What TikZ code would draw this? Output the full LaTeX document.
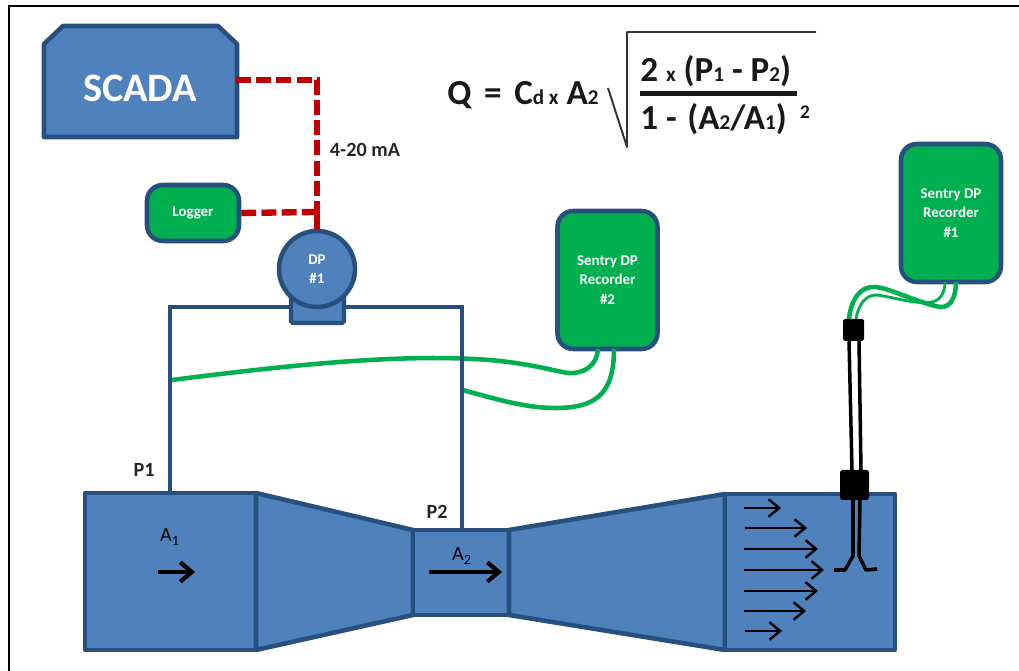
\documentclass[tikz,border=0pt]{standalone}
\usepackage{fontspec}
\setmainfont{Carlito}
\usetikzlibrary{arrows.meta}

\definecolor{pipeblue}{HTML}{4F81BD}
\definecolor{edgeblue}{HTML}{28507F}
\definecolor{boxgreen}{HTML}{00B050}
\definecolor{sigred}{HTML}{C00000}

\tikzset{
  unit/.style={draw=edgeblue,line width=2.6pt,fill=boxgreen,rounded corners=9pt,text=white,font=\bfseries\fontsize{8.5}{11}\selectfont,align=center,inner sep=0pt},
  section/.style={draw=edgeblue,line width=2.6pt,fill=pipeblue,line join=round},
  impulse/.style={draw=edgeblue,line width=2.8pt},
  signal/.style={draw=sigred,line width=3.1pt,dash pattern=on 8.5pt off 3pt},
  tube/.style={draw=boxgreen,line width=2.6pt},
  probe/.style={draw=black,line width=2pt},
  clamp/.style={fill=black,rounded corners=1pt,inner sep=0pt},
  flow/.style={draw=black,line width=1.4pt,-{Straight Barb[length=6pt,width=10pt,line width=1.4pt]}},
  bigflow/.style={draw=black,line width=2.4pt,-{Straight Barb[length=6.5pt,width=11pt,line width=2.4pt]}},
  tag/.style={font=\bfseries\fontsize{11.5}{13}\selectfont,text=black!85,inner sep=0pt},
  eqn/.style={font=\bfseries\fontsize{20}{22}\selectfont,text=black!90,inner sep=0pt}
}
\newcommand{\eqsub}[1]{{\fontsize{12}{12}\selectfont #1}}

\begin{document}
\begin{tikzpicture}[x=0.02cm,y=-0.02cm]

  \useasboundingbox (0,0) rectangle (1019,671);

  \draw[line width=1.5pt] (9,671) -- (9,6) -- (1019,6);

  % venturi
  \draw[section] (85,493) rectangle (256,650);
  \draw[section] (256,493) -- (413,530) -- (413,615) -- (256,650) -- cycle;
  \draw[section] (413,530) rectangle (509,615);
  \draw[section] (509,530) -- (725,494) -- (725,650) -- (509,615) -- cycle;
  \draw[section] (725,494) rectangle (895,650);

  % boxes
  \draw[section] (44,44) -- (63,26) -- (218,26) -- (237,44) -- (237,137) -- (44,137) -- cycle;
  \node[font=\bfseries\fontsize{23}{25}\selectfont,text=white,inner sep=0pt] (scada) at (140,88) {SCADA};
  \node[unit,minimum width=1.84cm,minimum height=1.12cm] (logger) at (193,213) {Logger};
  \node[unit,minimum width=2cm,minimum height=2.76cm] (rec2) at (607.5,280) {Sentry DP\\Recorder\\\#2};
  \node[unit,minimum width=2cm,minimum height=2.76cm] (rec1) at (951,213) {Sentry DP\\Recorder\\\#1};

  \coordinate (p1) at (170,493);
  \coordinate (p2) at (462,530);
  \coordinate (lefttop) at (170,307);
  \coordinate (righttop) at (462,307);
  \coordinate (scadaport) at (236,80);
  \coordinate (bend) at (317,80);
  \coordinate (tee) at (317,212);

  % green lines, under the impulse lines
  \coordinate (tap1) at (172,380);
  \coordinate (tap2) at (463,390);
  \coordinate (rec2a) at (598,349);
  \coordinate (rec2b) at (614,349);
  \draw[tube] (tap1) .. controls (290,365) and (410,352) .. (500,361) .. controls (535,365) and (550,370) .. (568,373) .. controls (585,374) and (597,365) .. (rec2a);
  \draw[tube] (tap2) .. controls (505,402) and (530,408) .. (555,408) .. controls (595,408) and (614,395) .. (rec2b);

  \draw[impulse] (p1) -- (lefttop) -- (righttop) -- (p2);

  % transmitter
  \node[draw=edgeblue,line width=2.4pt,fill=pipeblue,rounded corners=1pt,minimum width=1.06cm,minimum height=0.56cm,inner sep=0pt] (flange) at (317.5,309) {};
  \node[circle,draw=edgeblue,line width=2.6pt,fill=pipeblue,minimum size=1.52cm,inner sep=0pt,text=white,font=\bfseries\fontsize{8.5}{11}\selectfont,align=center] (dp) at (317,269) {DP\\\#1};

  % signal wiring
  \draw[signal] (scadaport) -- (bend) -- (tee);
  \draw[signal,line width=3.6pt] (logger.east) -- (tee);
  \draw[draw=sigred,line width=3.8pt] (tee) -- (dp.north);

  % probe
  \coordinate (clamp1a) at (849,319);
  \coordinate (clamp1b) at (856,319);
  \coordinate (rec1a) at (956,282);
  \coordinate (rec1b) at (945,282);
  \draw[tube] (clamp1a) .. controls (851,300) and (860,286) .. (875,287) .. controls (890,288) and (915,302) .. (940,307) .. controls (950,308) and (956,298) .. (rec1a);
  \draw[tube,line width=1.6pt] (clamp1b) .. controls (858,306) and (865,295) .. (876,295) .. controls (890,296) and (915,305) .. (932,302) .. controls (941,300) and (945,292) .. (rec1b);

  \node[clamp,minimum width=0.42cm,minimum height=0.44cm] (clamp1) at (853.5,330) {};
  \node[clamp,minimum width=0.58cm,minimum height=0.6cm] (clamp2) at (854.5,485) {};
  \draw[probe] (849,340) -- (852,470);
  \draw[probe] (859,340) -- (861,470);
  \draw[probe,line join=round] (853,499) -- (853,556) -- (845,570) -- (834,570);
  \draw[probe,line join=round] (860,499) -- (859,556) -- (866,570) -- (877,569);

  % arrows
  \coordinate (a1start) at (158,572);
  \coordinate (a1end) at (195,572);
  \coordinate (a2start) at (429,572);
  \coordinate (a2end) at (502,572);
  \draw[bigflow] (a1start) -- (a1end);
  \draw[bigflow] (a2start) -- (a2end);
  \foreach \y/\xa/\xb in {508/744/781,528/745/807,549/744/818,570/744/824,591/744/818,611/744/806,631/745/782}
    \draw[flow] (\xa,\y) -- (\xb,\y);

  % labels
  \node[tag] (mA) at (365,150) {4-20 mA};
  \node[tag] (lp1) at (144,470) {P1};
  \node[tag] (lp2) at (437,512) {P2};
  \node[tag,font=\fontsize{11.5}{13}\selectfont,text=black] (la1) at (170,537) {A\textsubscript{1}};
  \node[tag,font=\fontsize{11.5}{13}\selectfont,text=black] (la2) at (462,556) {A\textsubscript{2}};

  % equation
  \node[eqn,anchor=base west] (lhs) at (447,105) {Q\hspace{0.36em}=\hspace{0.36em}C\eqsub{d x} A\eqsub{2}};
  \node[eqn,anchor=base west] (num) at (640,82) {2 \eqsub{x} (P\eqsub{1} - P\eqsub{2})};
  \node[eqn,anchor=base west] (den) at (640,130) {1 -\hspace{0.3em}(A\eqsub{2}/A\eqsub{1})};
  \node[eqn,font=\bfseries\fontsize{11}{11}\selectfont] (pow) at (805,112) {2};
  \coordinate (barl) at (640,93.5);
  \coordinate (barr) at (797,93.5);
  \draw[line width=3pt,black!90] (barl) -- (barr);
  \coordinate (root) at (608,88);
  \coordinate (rootb) at (627,147);
  \coordinate (roott) at (627,32);
  \coordinate (rootr) at (816,32);
  \draw[line width=1.1pt,black!80,line join=round] (root) -- (rootb) -- (roott) -- (rootr);

\end{tikzpicture}
\end{document}
